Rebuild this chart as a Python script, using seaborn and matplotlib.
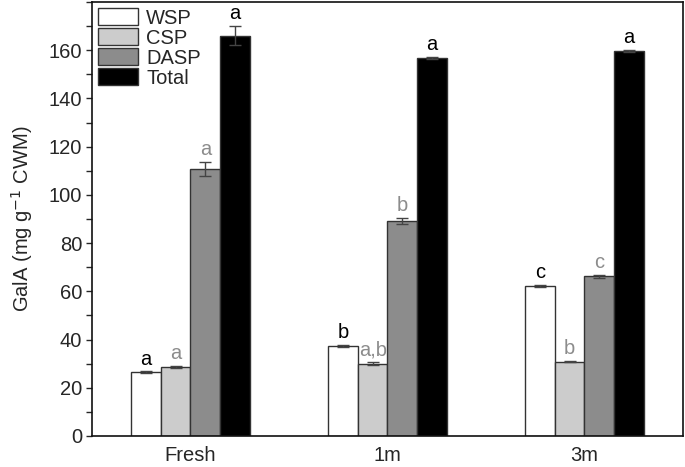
import matplotlib
matplotlib.use("Agg")
import matplotlib.pyplot as plt
import seaborn as sns
import pandas as pd
import numpy as np
from matplotlib.ticker import MultipleLocator

groups = ["Fresh", "1m", "3m"]
fractions = ["WSP", "CSP", "DASP", "Total"]
wsp = [26.4, 37.3, 62.3]
csp = [28.7, 30.0, 30.8]
dasp = [110.8, 89.3, 66.2]
total = [166.0, 156.8, 159.6]
wsp_err = [0.4, 0.5, 0.4]
csp_err = [0.4, 0.6, 0.2]
dasp_err = [3.0, 1.2, 0.6]
total_err = [4.0, 0.3, 0.5]
wsp_let = ["a", "b", "c"]
csp_let = ["a", "a,b", "b"]
dasp_let = ["a", "b", "c"]
total_let = ["a", "a", "a"]

colors = ["#ffffff", "#cccccc", "#8c8c8c", "#000000"]
letter_colors = ["#000000", "#8c8c8c", "#8c8c8c", "#000000"]

vals = [wsp, csp, dasp, total]
errs = [wsp_err, csp_err, dasp_err, total_err]
lets = [wsp_let, csp_let, dasp_let, total_let]

rows = []
for f, v in zip(fractions, vals):
    for g, x in zip(groups, v):
        rows.append({"group": g, "fraction": f, "value": x})
df = pd.DataFrame(rows)

sns.set_style("ticks")
plt.rcParams["font.family"] = ["Liberation Sans", "DejaVu Sans"]
FS = 14.5

fig = plt.figure(figsize=(6.85, 4.67), dpi=100)
ax = fig.add_axes([0.1343, 0.0664, 0.997 - 0.1343, 0.9957 - 0.0664])

sns.barplot(data=df, x="group", y="value", hue="fraction", order=groups,
            hue_order=fractions, palette=colors, width=0.6, errorbar=None,
            edgecolor="#333333", linewidth=1.0, ax=ax)

# error bars and letters
for i, f in enumerate(fractions):
    cont = ax.containers[i]
    for j, bar in enumerate(cont):
        xc = bar.get_x() + bar.get_width() / 2
        h = bar.get_height()
        e = errs[i][j]
        ax.errorbar(xc, h, yerr=e, fmt="none", ecolor="#444444",
                    elinewidth=1.0, capsize=4, capthick=1.0, zorder=5)
        ax.annotate(lets[i][j], (xc, h + e), xytext=(0, 2),
                    textcoords="offset points", ha="center", va="bottom",
                    fontsize=FS, color=letter_colors[i])

ax.set_xlim(-0.5, 2.5)
ax.set_ylim(0, 180)
ax.yaxis.set_major_locator(MultipleLocator(20))
ax.yaxis.set_minor_locator(MultipleLocator(10))
ax.set_yticks(np.arange(0, 161, 20))
ax.tick_params(axis="y", which="both", direction="out", length=4, width=1,
               labelsize=FS, pad=3)
ax.tick_params(axis="x", which="both", length=0, labelsize=FS, pad=7)
for s in ax.spines.values():
    s.set_visible(True)
    s.set_linewidth(1.2)
    s.set_color("#111111")
ax.set_xlabel("")
ax.set_ylabel("GalA (mg g$^{-1}$ CWM)", fontsize=FS, labelpad=10)

leg = ax.legend(loc="upper left", frameon=False, fontsize=FS,
                handlelength=2.0, handleheight=0.95, labelspacing=0.02,
                handletextpad=0.4, borderaxespad=0.25, borderpad=0.05)

fig.savefig("out.png", dpi=100)
